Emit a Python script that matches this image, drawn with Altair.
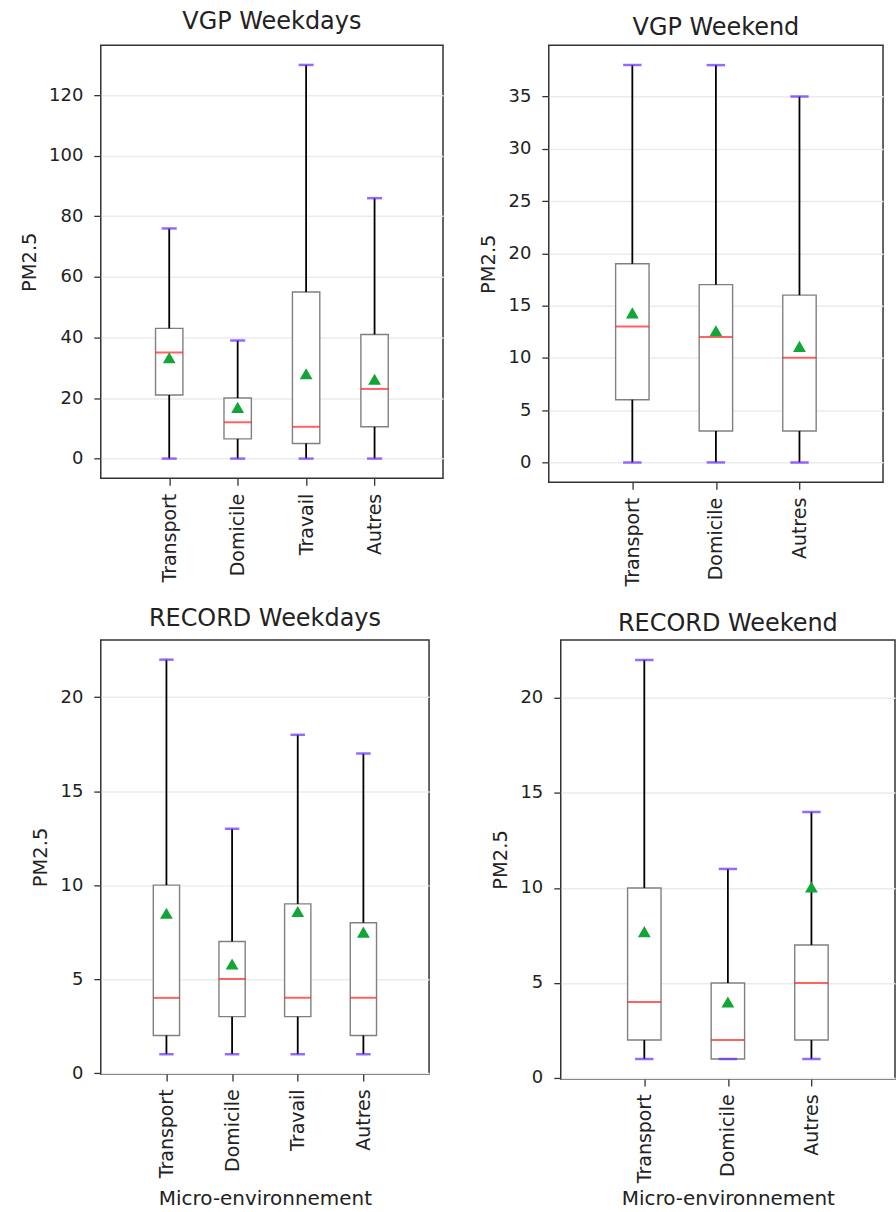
import altair as alt
import pandas as pd

FONT = "DejaVu Sans"
TXT = "#222222"

# ---------------- data ----------------
cats_wd = ["Transport", "Domicile", "Travail", "Autres"]
cats_we = ["Transport", "Domicile", "Autres"]

vgp_wd_low = [0, 0, 0, 0]
vgp_wd_q1 = [21, 6.5, 5, 10.5]
vgp_wd_med = [35, 12, 10.5, 23]
vgp_wd_q3 = [43, 20, 55, 41]
vgp_wd_high = [76, 39, 130, 86]
vgp_wd_mean = [33.3, 16.9, 28.0, 26.2]

vgp_we_low = [0, 0, 0]
vgp_we_q1 = [6, 3, 3]
vgp_we_med = [13, 12, 10]
vgp_we_q3 = [19, 17, 16]
vgp_we_high = [38, 38, 35]
vgp_we_mean = [14.3, 12.6, 11.1]

rec_wd_low = [1, 1, 1, 1]
rec_wd_q1 = [2, 3, 3, 2]
rec_wd_med = [4, 5, 4, 4]
rec_wd_q3 = [10, 7, 9, 8]
rec_wd_high = [22, 13, 18, 17]
rec_wd_mean = [8.5, 5.8, 8.6, 7.5]

rec_we_low = [1, 1, 1]
rec_we_q1 = [2, 1, 2]
rec_we_med = [4, 2, 5]
rec_we_q3 = [10, 5, 7]
rec_we_high = [22, 11, 14]
rec_we_mean = [7.7, 4.0, 10.05]

ticks_vgp_wd = [0, 20, 40, 60, 80, 100, 120]
ticks_vgp_we = [0, 5, 10, 15, 20, 25, 30, 35]
ticks_rec = [0, 5, 10, 15, 20]


def panel(title, cats, low, q1, med, q3, high, mean, ydom, yticks,
          width, height, title_offset, xtitle=None, xtitle_pad=8):
    df = pd.DataFrame({"cat": cats, "low": low, "q1": q1, "med": med,
                       "q3": q3, "high": high, "mean": mean})
    step = width / (len(cats) + 1)
    box_w = 0.4 * step
    cap_w = 0.22 * step

    xaxis = alt.Axis(labelAngle=270, labelAlign="right", labelBaseline="middle",
                     labelFont=FONT, labelFontSize=19, labelColor=TXT,
                     tickSize=7, tickColor="#333333", tickWidth=1.3,
                     labelPadding=8, domain=False, grid=False,
                     titleFont=FONT, titleFontSize=20, titleFontWeight="normal",
                     titleColor=TXT, titlePadding=xtitle_pad)
    xscale = alt.Scale(type="point", padding=1)
    if xtitle is not None:
        x = alt.X("cat:N", sort=cats, title=xtitle, scale=xscale, axis=xaxis)
    else:
        x = alt.X("cat:N", sort=cats, title=None, scale=xscale, axis=xaxis)

    yaxis = alt.Axis(values=yticks, labelFont=FONT, labelFontSize=18,
                     labelColor=TXT, tickSize=7, tickColor="#333333",
                     tickWidth=1.3, labelPadding=11, domain=False, grid=True,
                     gridColor="#ebebeb", gridWidth=1.5,
                     titleFont=FONT, titleFontSize=19.5,
                     titleFontWeight="normal", titleColor=TXT,
                     titlePadding=9.5)
    yscale = alt.Scale(domain=ydom, nice=False, zero=False)

    def Y(field):
        return alt.Y(f"{field}:Q", scale=yscale, axis=yaxis, title="PM2.5")

    base = alt.Chart(df).encode(x=x)
    box = base.mark_bar(size=box_w, fill="white", stroke="#808080",
                        strokeWidth=1.4).encode(y=Y("q1"), y2="q3:Q")
    wlo = base.mark_rule(color="black", strokeWidth=1.8).encode(y=Y("low"), y2="q1:Q")
    whi = base.mark_rule(color="black", strokeWidth=1.8).encode(y=Y("q3"), y2="high:Q")
    caplo = base.mark_tick(color="#6b2bff", size=cap_w, thickness=2.5).encode(y=Y("low"))
    caphi = base.mark_tick(color="#6b2bff", size=cap_w, thickness=2.5).encode(y=Y("high"))
    medt = base.mark_tick(color="#ff2020", size=box_w, thickness=2).encode(y=Y("med"))
    meanp = base.mark_point(shape="triangle-up", filled=True, color="#12a537",
                            opacity=1, size=165).encode(y=Y("mean"))

    ttl = alt.TitleParams(text=title, font=FONT, fontSize=24,
                          fontWeight="normal", color=TXT, offset=title_offset,
                          anchor="middle")

    return alt.layer(box, wlo, whi, caplo, caphi, medt, meanp).properties(
        width=width, height=height, title=ttl)


p1 = panel("VGP Weekdays", cats_wd, vgp_wd_low, vgp_wd_q1, vgp_wd_med,
           vgp_wd_q3, vgp_wd_high, vgp_wd_mean, [-6.5, 136.5], ticks_vgp_wd,
           343, 434, 10.8)
p2 = panel("VGP Weekend", cats_we, vgp_we_low, vgp_we_q1, vgp_we_med,
           vgp_we_q3, vgp_we_high, vgp_we_mean, [-1.9, 39.9], ticks_vgp_we,
           335, 438, 4.8)
p3 = panel("RECORD Weekdays", cats_wd, rec_wd_low, rec_wd_q1, rec_wd_med,
           rec_wd_q3, rec_wd_high, rec_wd_mean, [-0.05, 23.05], ticks_rec,
           329, 435, 8.8, xtitle="Micro-environnement", xtitle_pad=11)
p4 = panel("RECORD Weekend", cats_we, rec_we_low, rec_we_q1, rec_we_med,
           rec_we_q3, rec_we_high, rec_we_mean, [-0.05, 23.05], ticks_rec,
           335, 440, 3.8, xtitle="Micro-environnement", xtitle_pad=6)

row1 = alt.concat(p1, p2, columns=2, align="none", spacing=33)
row2 = alt.concat(p3, p4, columns=2, align="none", spacing=59)

chart = alt.vconcat(row1, row2, spacing=19).properties(
    padding={"left": 18, "top": 8, "right": 0, "bottom": 0}
).configure_view(stroke="#333333", strokeWidth=1.5)

chart.save("out.html", embed_options={"renderer": "svg", "actions": False})
